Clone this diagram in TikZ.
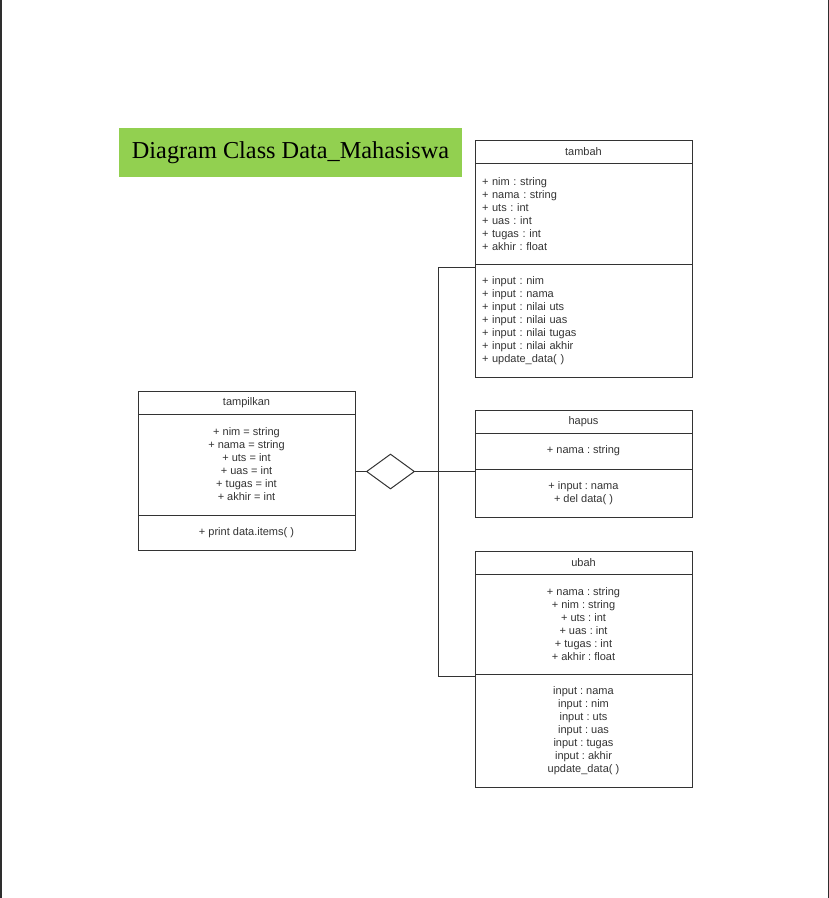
\documentclass[tikz,border=0pt]{standalone}
\usepackage{fontspec}
\setmainfont{Liberation Sans}
\newfontfamily\titlefont{Liberation Serif}
\usetikzlibrary{positioning,shapes.geometric}
\definecolor{garis}{HTML}{333333}
\definecolor{hijau}{HTML}{92D050}
\frenchspacing
\tikzset{
	kelas/.style={draw=garis, line width=1pt, minimum width=217pt, inner sep=0pt, outer sep=0pt,
		text=garis, font=\fontsize{11}{13}\selectfont, align=center},
	judul/.style={kelas, minimum height=23pt},
	isikiri/.style={kelas, text width=203pt, inner xsep=7pt, align=left},
}
\begin{document}
\begin{tikzpicture}[x=1pt,y=-1pt]
	\useasboundingbox (0,0) rectangle (829,898);
	% tepi halaman
	\draw[garis!90!black, line width=1.5pt] (0.75,0) -- (0.75,898);
	\draw[garis!90!black, line width=1.5pt] (828.25,0) -- (828.25,898);
	% judul
	\node[fill=hijau, minimum width=343pt, minimum height=49pt, inner sep=0pt,
		font=\titlefont\fontsize{24.3}{28}\selectfont] (judul) at (290.5,152.5) {Diagram Class Data\_Mahasiswa};
	% kelas tampilkan
	\node[judul] (tampilkan) at (246.5,402.5) {tampilkan};
	\node[kelas, minimum height=101pt, below=0pt of tampilkan] (tampilkanatr) {+ nim = string\\+ nama = string\\+ uts = int\\+ uas = int\\+ tugas = int\\+ akhir = int};
	\node[kelas, minimum height=35pt, below=0pt of tampilkanatr] (tampilkanmet) {+ print data.items( )};
	% kelas tambah
	\node[judul] (tambah) at (583.5,152) {tambah};
	\node[isikiri, minimum height=101pt, below=0pt of tambah] (tambahatr) {+ nim : string\\+ nama : string\\+ uts : int\\+ uas : int\\+ tugas : int\\+ akhir : float};
	\node[isikiri, minimum height=113pt, below=0pt of tambahatr] (tambahmet) {+ input : nim\\+ input : nama\\+ input : nilai uts\\+ input : nilai uas\\+ input : nilai tugas\\+ input : nilai akhir\\+ update\_data( )};
	% kelas hapus
	\node[judul] (hapus) at (583.5,421.5) {hapus};
	\node[kelas, minimum height=36pt, below=0pt of hapus] (hapusatr) {+ nama : string};
	\node[kelas, minimum height=48pt, below=0pt of hapusatr] (hapusmet) {+ input : nama\\+ del data( )};
	% kelas ubah
	\node[judul] (ubah) at (583.5,562.5) {ubah};
	\node[kelas, minimum height=100pt, below=0pt of ubah] (ubahatr) {+ nama : string\\+ nim : string\\+ uts : int\\+ uas : int\\+ tugas : int\\+ akhir : float};
	\node[kelas, minimum height=113pt, below=0pt of ubahatr] (ubahmet) {input : nama\\input : nim\\input : uts\\input : uas\\input : tugas\\input : akhir\\update\_data( )};
	% agregasi
	\node[diamond, draw=garis, line width=1pt, minimum width=48pt, minimum height=35pt, inner sep=0pt] (agregasi) at (390.5,471.5) {};
	\coordinate (atas) at (438,267);
	\coordinate (bawah) at (438,676);
	\draw[garis, line width=1pt] (agregasi.west) -- (agregasi.west -| tampilkanatr.east);
	\draw[garis, line width=1pt] (agregasi.east) -- (agregasi.east -| hapusmet.west);
	\draw[garis, line width=1pt] (tambahmet.west |- atas) -- (atas) -- (bawah) -- (bawah -| ubahmet.west);
\end{tikzpicture}
\end{document}
